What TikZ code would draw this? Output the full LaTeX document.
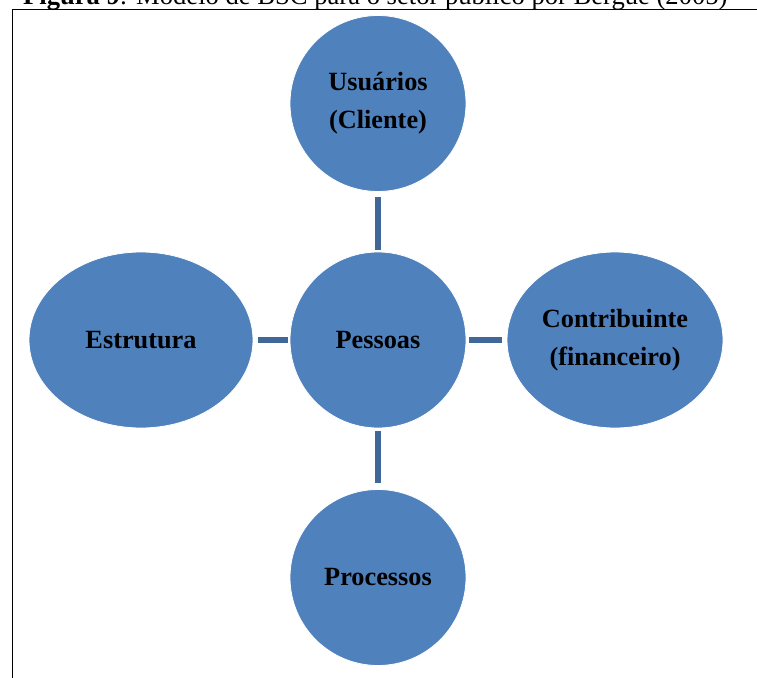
\documentclass[tikz,border=0pt]{standalone}
\usepackage{fontspec}
\setmainfont{Liberation Serif}
\usetikzlibrary{shapes.geometric}

\definecolor{bubble}{HTML}{4F81BD}
\definecolor{linkblue}{HTML}{3F6797}
\definecolor{framegray}{HTML}{000000}

\tikzset{
  bubble/.style={ellipse, fill=bubble, draw=white, line width=0.8pt,
    inner sep=0pt, align=center, text=black,
    font=\fontsize{26.3}{38}\selectfont\bfseries},
  roundbubble/.style={bubble, minimum width=176pt, minimum height=176pt},
  wide/.style={bubble, minimum height=176pt},
  link/.style={draw=linkblue, line width=6pt},
  caption/.style={anchor=base west, inner sep=0pt,
    font=\fontsize{26.6}{30}\selectfont}
}

\begin{document}
\begin{tikzpicture}[x=1pt, y=-1pt]
  \useasboundingbox (0,0) rectangle (757,677);
  \clip (0,0) rectangle (757,677);

  % figure caption and surrounding frame
  \node[caption] (cap) at (23,5)
    {\textbf{Figura 9}: Modelo de BSC para o setor público por Bergue (2005)};
  \draw[framegray, line width=1.5pt] (12.5,700) -- (12.5,9.5) -- (780,9.5);

  % perspectives
  \node[roundbubble] (pess) at (378,340) {Pessoas};
  \node[roundbubble] (user) at (378,103.5) {Usuários\\(Cliente)};
  \node[roundbubble] (proc) at (378,577.5) {Processos};
  \node[wide, minimum width=224pt] (estr) at (141,340) {Estrutura};
  \node[wide, minimum width=216pt] (contr) at (615,340) {Contribuinte\\(financeiro)};

  % links from the centre
  \draw[link, shorten <=2pt, shorten >=5pt] (pess) -- (user);
  \draw[link, shorten <=3pt, shorten >=6pt] (pess) -- (proc);
  \draw[link, shorten <=2pt, shorten >=5pt] (pess) -- (estr);
  \draw[link, shorten <=3pt, shorten >=5pt] (pess) -- (contr);
\end{tikzpicture}
\end{document}
